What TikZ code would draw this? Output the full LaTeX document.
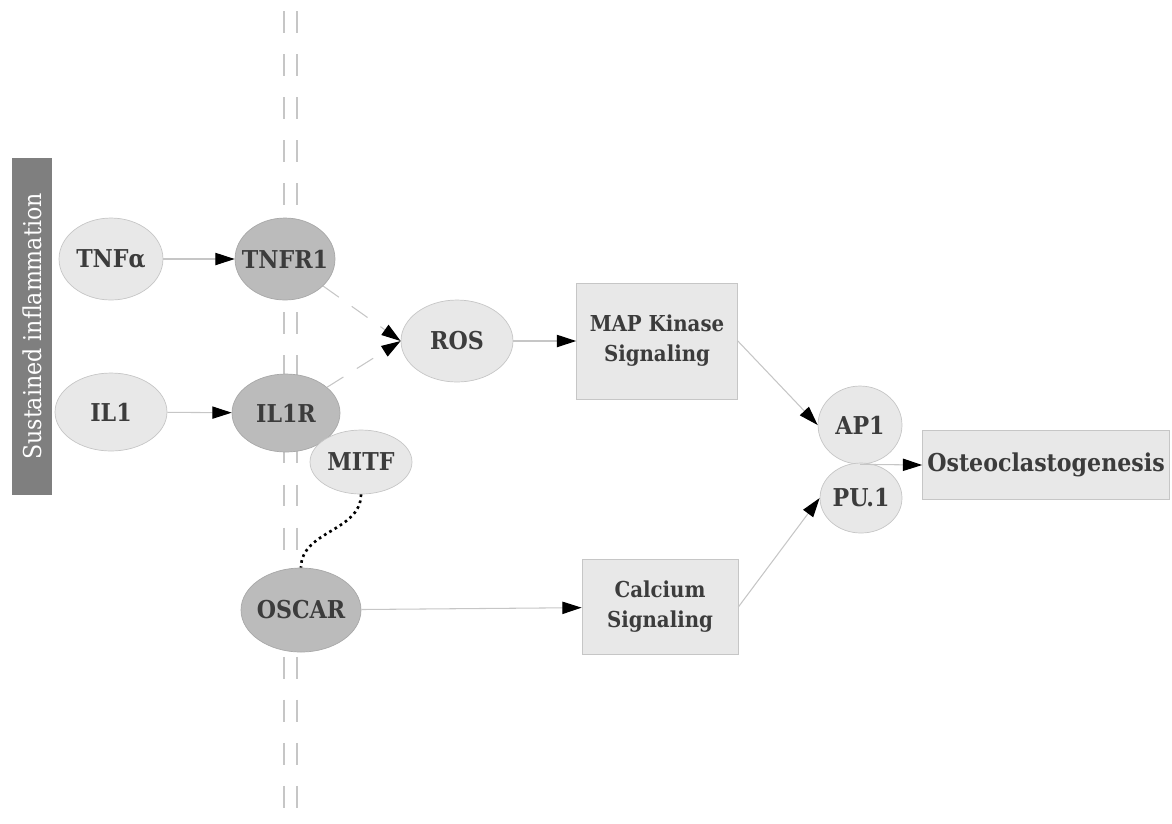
\documentclass[tikz,border=0pt]{standalone}
\usepackage{fontspec}
\setmainfont{DejaVu Serif Condensed}
\usetikzlibrary{shapes.geometric,arrows.meta}
\definecolor{G0}{HTML}{E8E8E8}
\definecolor{G1}{HTML}{BBBBBB}
\definecolor{G2}{HTML}{C6C6C6}
\definecolor{G3}{HTML}{3C3C3C}
\definecolor{G4}{HTML}{7F7F7F}
\tikzset{
  ligand/.style={ellipse, draw=G2, fill=G0, text=G3, inner sep=-25pt, font=\bfseries\fontsize{14}{16}\selectfont},
  receptor/.style={ligand, fill=G1, draw=G1!90!black},
  pathway/.style={rectangle, draw=G2, fill=G0, text=G3, inner sep=0pt, align=center, font=\bfseries\fontsize{12.5}{17}\selectfont},
  link/.style={draw=G2, line width=0.6pt, -{Triangle[length=11pt,width=7pt,color=black]}},
  membrane/.style={draw=G2, line width=0.9pt, dash pattern=on 12.5pt off 12pt}
}
\begin{document}
\begin{tikzpicture}[x=0.02cm,y=-0.02cm]%
\useasboundingbox (0,0) rectangle (1172,823);%
% membrane
\draw[membrane] (284,11) -- (284,823);%
\draw[membrane] (297,11) -- (297,823);%
% side label
\node[fill=G4, minimum width=6.74cm, minimum height=0.8cm, inner sep=0pt, rotate=90, text=white, font=\fontsize{14}{16}\selectfont] (inflam) at (32,326.5) {Sustained inflammation};%
% ligands and receptors
\node[ligand, minimum width=2.08cm, minimum height=1.64cm] (tnfa) at (111,259) {TNFα};%
\node[receptor, minimum width=2.0cm, minimum height=1.64cm] (tnfr1) at (285,259) {TNFR1};%
\node[ligand, minimum width=2.24cm, minimum height=1.56cm] (il1) at (111,412) {IL1};%
\node[receptor, minimum width=2.16cm, minimum height=1.56cm] (il1r) at (286,413) {IL1R};%
\node[ligand, minimum width=2.04cm, minimum height=1.28cm] (mitf) at (361,462) {MITF};%
\node[receptor, minimum width=2.4cm, minimum height=1.68cm] (oscar) at (301,610) {OSCAR};%
\node[ligand, minimum width=2.24cm, minimum height=1.64cm] (ros) at (457,341) {ROS};%
% pathways
\node[pathway, minimum width=3.22cm, minimum height=2.32cm] (mapk) at (657,341) {MAP Kinase\\Signaling};%
\node[pathway, minimum width=3.12cm, minimum height=1.9cm] (calc) at (660,607) {Calcium\\Signaling};%
\node[ligand, minimum width=1.68cm, minimum height=1.56cm] (ap1) at (860,425) {AP1};%
\node[ligand, minimum width=1.64cm, minimum height=1.4cm] (pu1) at (861,498) {PU.1};%
\node[pathway, minimum width=4.94cm, minimum height=1.38cm, font=\bfseries\fontsize{14}{16}\selectfont] (osteo) at (1046,465) {Osteoclastogenesis};%
% connectors
\draw[link] (tnfa) -- (tnfr1);%
\draw[link] (il1) -- (il1r);%
\draw[link, dash pattern=on 11pt off 9pt] (tnfr1) -- (ros.west);%
\draw[link, dash pattern=on 11pt off 9pt] (il1r) -- (ros.west);%
\draw[link] (ros) -- (mapk);%
\draw[link] (oscar) -- (calc);%
\draw[link] (mapk.east) -- (ap1.west);%
\draw[link] (calc.east) -- (pu1.west);%
\draw[link] (ap1.south) -- (osteo.west);%
\draw[black, line width=1.5pt, dotted] (mitf.south) to[out=-90, in=90] (oscar.north);%
\end{tikzpicture}
\end{document}
